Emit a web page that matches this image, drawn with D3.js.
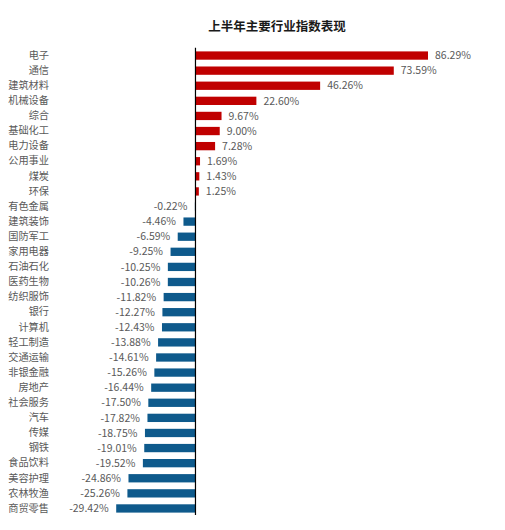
<!DOCTYPE html>
<html>
<head>
<meta charset="utf-8">
<script src="https://cdn.jsdelivr.net/npm/d3@7"></script>
<style>
  html, body { margin: 0; padding: 0; background: #ffffff; }
  svg { display: block; }
</style>
</head>
<body>
<svg id="chart" width="505" height="530"></svg>
<script>
const title = "上半年主要行业指数表现";
const categories = ["电子","通信","建筑材料","机械设备","综合","基础化工","电力设备","公用事业","煤炭","环保",
  "有色金属","建筑装饰","国防军工","家用电器","石油石化","医药生物","纺织服饰","银行","计算机","轻工制造",
  "交通运输","非银金融","房地产","社会服务","汽车","传媒","钢铁","食品饮料","美容护理","农林牧渔","商贸零售"];
const values = [86.29,73.59,46.26,22.60,9.67,9.00,7.28,1.69,1.43,1.25,
  -0.22,-4.46,-6.59,-9.25,-10.25,-10.26,-11.82,-12.27,-12.43,-13.88,
  -14.61,-15.26,-16.44,-17.50,-17.82,-18.75,-19.01,-19.52,-24.86,-25.26,-29.42];

const data = categories.map((c, i) => ({ cat: c, val: values[i] }));
const svg = d3.select("#chart");
const font = "'Noto Sans CJK SC', 'Noto Sans', sans-serif";

svg.append("text")
  .attr("x", 277).attr("y", 31)
  .attr("text-anchor", "middle")
  .attr("font-family", font)
  .attr("font-weight", "bold")
  .attr("font-size", 12.5)
  .attr("fill", "#1a1a1a")
  .text(title);

const x = d3.scaleLinear().domain([d3.min(values), d3.max(values)]).range([116.2, 428]);
const y = d3.scaleBand().domain(categories).range([48, 516]).paddingInner(0.45).paddingOuter(0.225);

svg.append("g").selectAll("rect").data(data).join("rect")
  .attr("x", d => x(Math.min(0, d.val)))
  .attr("y", d => y(d.cat))
  .attr("width", d => Math.abs(x(d.val) - x(0)))
  .attr("height", y.bandwidth())
  .attr("fill", d => d.val >= 0 ? "#c00000" : "#0e5a8c");

// value labels
svg.append("g").selectAll("text").data(data).join("text")
  .attr("x", d => d.val >= 0 ? x(d.val) + 7 : x(d.val) - 7.5)
  .attr("y", d => y(d.cat) + y.bandwidth() / 2)
  .attr("dy", "0.35em")
  .attr("text-anchor", d => d.val >= 0 ? "start" : "end")
  .attr("font-family", font)
  .attr("font-size", 10.5)
  .attr("fill", "#595959")
  .text(d => d.val.toFixed(2) + "%");

// category axis
const axis = d3.axisLeft(y).tickSize(0).tickPadding(0);
const gAxis = svg.append("g").attr("transform", "translate(49,0)").call(axis);
gAxis.select(".domain").remove();
gAxis.selectAll("text")
  .attr("font-family", font)
  .attr("font-size", 10.2)
  .attr("fill", "#595959");

// zero line
svg.append("line")
  .attr("x1", x(0)).attr("x2", x(0))
  .attr("y1", 47.7).attr("y2", 515)
  .attr("stroke", "#000").attr("stroke-width", 1.2);
</script>
</body>
</html>
